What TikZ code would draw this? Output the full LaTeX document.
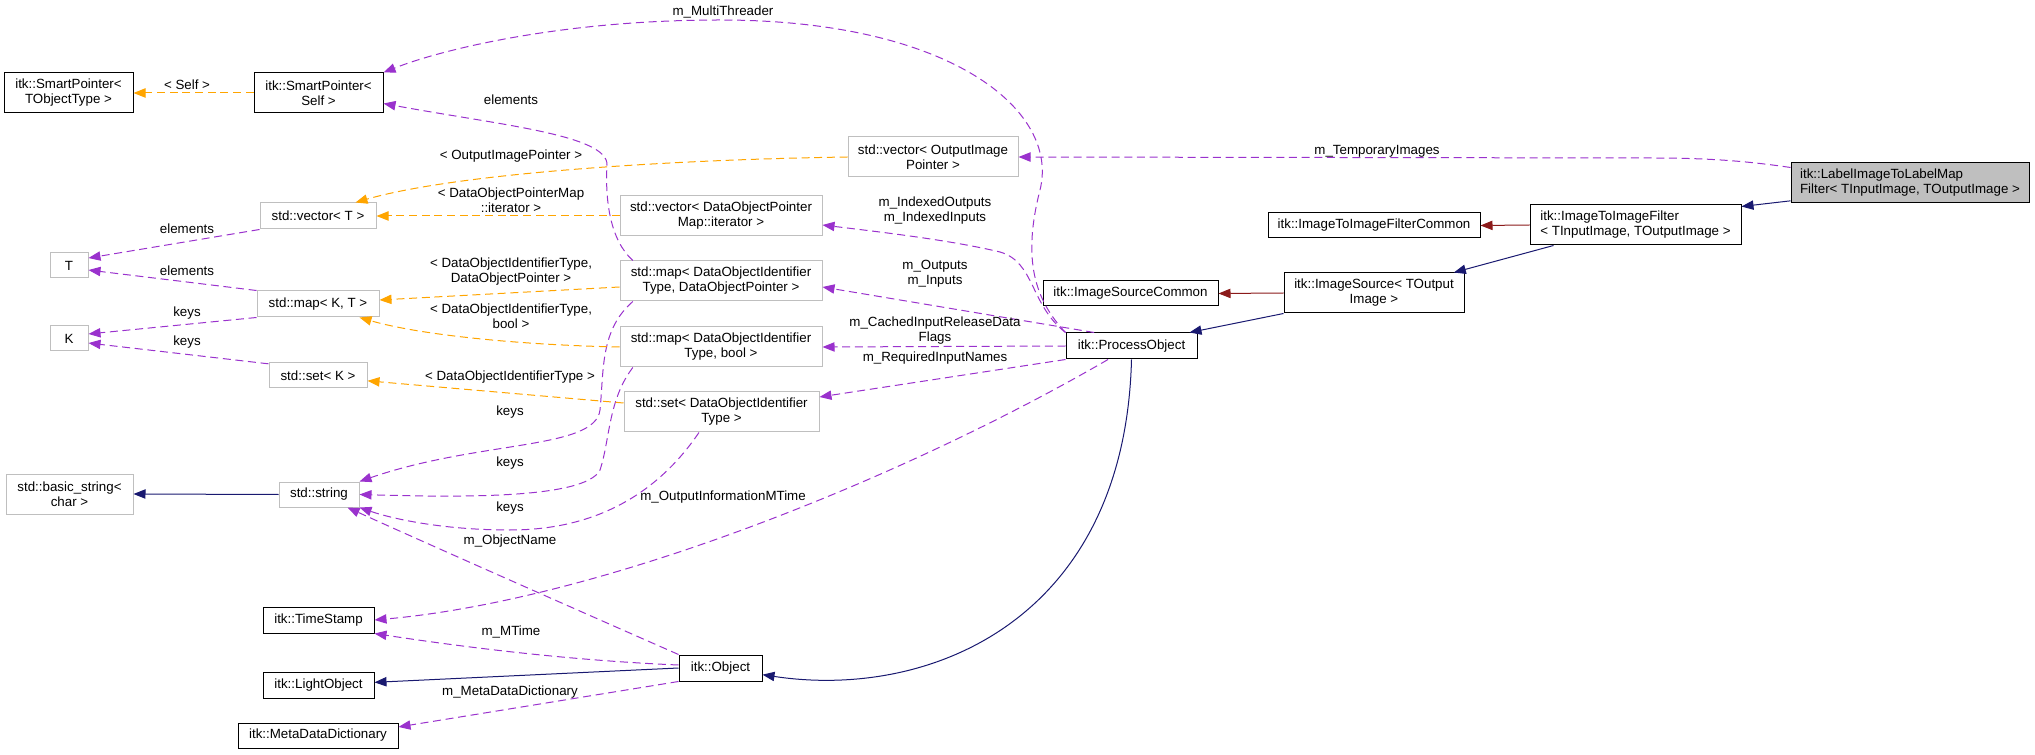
\documentclass[tikz,border=0pt]{standalone}
\usepackage{fontspec}
\setmainfont{Liberation Sans}
\usetikzlibrary{arrows.meta}
\definecolor{inhblue}{HTML}{191970}
\definecolor{protred}{HTML}{8B1A1A}
\definecolor{usepurple}{HTML}{9A32CD}
\definecolor{tmplorange}{HTML}{FFA500}
\definecolor{extgray}{HTML}{BFBFBF}
\begin{document}
\begin{tikzpicture}[x=0.75pt,y=-0.75pt,
    font=\fontsize{10}{11.25}\selectfont,
    box/.style 2 args={line width=0.75pt, inner sep=0pt, align=center,
      minimum width=#1*0.75pt, minimum height=#2*0.75pt},
    cls/.style 2 args={box={#1}{#2}, draw=black, fill=white},
    ext/.style 2 args={box={#1}{#2}, draw=extgray, fill=white},
    lbl/.style={inner sep=0pt, align=center},
    tip/.style={-{Triangle[length=9pt,width=7pt]}},
    inh/.style={draw=inhblue, line width=0.75pt, tip},
    prot/.style={draw=protred, line width=0.75pt, tip},
    usage/.style={draw=usepurple, line width=0.75pt, dash pattern=on 6pt off 3.5pt, tip},
    tmpl/.style={draw=tmplorange, line width=0.75pt, dash pattern=on 6pt off 3.5pt, tip}]
    \useasboundingbox (0,0) rectangle (2035,755);

    % classes
    \node[cls={129}{40}] (spTObj) at (68.5,93) {itk::SmartPointer<\\TObjectType >};
    \node[cls={129}{40}] (spSelf) at (318.5,93) {itk::SmartPointer<\\Self >};
    \node[ext={116}{26}] (vecT) at (318,216) {std::vector< T >};
    \node[ext={38}{25}] (T) at (69,265.5) {T};
    \node[ext={122}{26}] (mapKT) at (318,304) {std::map< K, T >};
    \node[ext={38}{25}] (K) at (69,338.5) {K};
    \node[ext={98}{25}] (setK) at (318,375.5) {std::set< K >};
    \node[ext={127}{40}] (bstr) at (69.5,494) {std::basic\_string<\\char >};
    \node[ext={80}{25}] (str) at (319,494.5) {std::string};
    \node[cls={111}{26}] (tstamp) at (318.5,620) {itk::TimeStamp};
    \node[cls={111}{26}] (light) at (318.5,685) {itk::LightObject};
    \node[cls={160}{25}] (meta) at (318,735.5) {itk::MetaDataDictionary};
    \node[ext={170}{40}] (vecOut) at (933,157) {std::vector< OutputImage\\Pointer >};
    \node[ext={202}{40}] (vecIter) at (721,216) {std::vector< DataObjectPointer\\Map::iterator >};
    \node[ext={202}{40}] (mapDOP) at (721,281) {std::map< DataObjectIdentifier\\Type, DataObjectPointer >};
    \node[ext={202}{40}] (mapBool) at (721,347) {std::map< DataObjectIdentifier\\Type, bool >};
    \node[ext={195}{40}] (setDOIT) at (721.5,412) {std::set< DataObjectIdentifier\\Type >};
    \node[cls={83}{26}] (obj) at (720.5,668) {itk::Object};
    \node[cls={131}{26}] (po) at (1131.5,346) {itk::ProcessObject};
    \node[cls={175}{25}] (isc) at (1130.5,293.5) {itk::ImageSourceCommon};
    \node[cls={180}{40}] (isrc) at (1374,293) {itk::ImageSource< TOutput\\Image >};
    \node[cls={212}{25}] (iifc) at (1374,225.5) {itk::ImageToImageFilterCommon};
    \node[cls={211}{40}, align=left] (iif) at (1635.5,225) {itk::ImageToImageFilter\\< TInputImage, TOutputImage >};
    \node[cls={238}{40}, fill=extgray, align=left] (main) at (1910,183) {itk::LabelImageToLabelMap\\Filter< TInputImage, TOutputImage >};

    % inheritance
    \draw[inh] ([yshift=2pt]main.south west) -- ([yshift=-1.5pt]iif.north east);
    \draw[inh] ([xshift=18pt]iif.south west) -- ([xshift=-8pt]isrc.north east);
    \draw[inh] (isrc.south west) -- ([xshift=-6pt]po.north east);
    \draw[inh] (po.south) .. controls (1125,620) and (930,700) .. ([yshift=-5pt]obj.east);
    \draw[inh] (obj.west) -- ([yshift=2pt]light.east);
    \draw[inh] (str.west) -- (bstr.east);
    \draw[prot] (iif.west) -- (iifc.east);
    \draw[prot] (isrc.west) -- (isc.east);

    % members
    \draw[usage] ([yshift=-3.75pt]main.north west) .. controls (1740,160) and (1700,158) .. (1650,158) -- (vecOut.east);
    \node[lbl] (lTemp) at (1377,151) {m\_TemporaryImages};
    \draw[usage] (po.north west) .. controls (1035,300) and (1022,260) .. (1040,190)
        .. controls (1060,110) and (950,20) .. (720,20)
        .. controls (560,20) and (440,50) .. (spSelf.north east);
    \node[lbl] (lThread) at (723,12) {m\_MultiThreader};
    \draw[usage] (po.north west) .. controls (1030,305) and (1035,262) .. (1000,252)
        .. controls (950,240) and (880,232) .. ([yshift=-6.75pt]vecIter.east);
    \node[lbl] (lIndexed) at (935,210.5) {m\_IndexedOutputs\\m\_IndexedInputs};
    \draw[usage] ([xshift=-28pt]po.north) -- ([yshift=-4.5pt]mapDOP.east);
    \node[lbl] (lInOut) at (935,274) {m\_Outputs\\m\_Inputs};
    \draw[usage] (po.west) -- (mapBool.east);
    \node[lbl] (lCached) at (935,330.5) {m\_CachedInputReleaseData\\Flags};
    \draw[usage] (po.south west) -- ([yshift=11.25pt]setDOIT.east);
    \node[lbl] (lRequired) at (935,358) {m\_RequiredInputNames};
    \draw[usage] ([xshift=-17.6pt]po.south) .. controls (900,480) and (600,600) .. (tstamp.east);
    \node[lbl] (lOutInfo) at (723,497) {m\_OutputInformationMTime};
    \draw[usage] (obj.north west) .. controls (600,620) and (430,545) .. ([xshift=-9pt]str.south east);
    \node[lbl] (lName) at (510,541) {m\_ObjectName};
    \draw[usage] ([yshift=2.25pt]obj.west) .. controls (560,660) and (450,645) .. (tstamp.south east);
    \node[lbl] (lMTime) at (511,632) {m\_MTime};
    \draw[usage] (obj.south west) -- ([yshift=6.4pt]meta.east);
    \node[lbl] (lMeta) at (510,692) {m\_MetaDataDictionary};
    \draw[usage] ([xshift=10pt]mapDOP.north west) .. controls (610,240) and (605,200) .. (607,165)
        .. controls (608,135) and (500,125) .. ([yshift=7.5pt]spSelf.south east);
    \node[lbl] (lElemSp) at (511,100) {elements};
    \draw[usage] ([xshift=10pt]mapDOP.south west) .. controls (600,330) and (604,370) .. (600,410)
        .. controls (595,450) and (480,440) .. (str.north east);
    \node[lbl] (lKeys1) at (510,412) {keys};
    \draw[usage] ([xshift=10pt]mapBool.south west) .. controls (608,400) and (610,440) .. (600,470)
        .. controls (585,500) and (450,497) .. (str.east);
    \node[lbl] (lKeys2) at (510,463) {keys};
    \draw[usage] ([xshift=-16.9pt]setDOIT.south) .. controls (660,490) and (600,530) .. (510,530)
        .. controls (440,530) and (390,518) .. (str.south east);
    \node[lbl] (lKeys3) at (510,508) {keys};
    \draw[usage] (vecT.south west) -- ([yshift=5.6pt]T.east);
    \node[lbl] (lElemV) at (187,229) {elements};
    \draw[usage] (mapKT.north west) -- ([yshift=-3.4pt]T.east);
    \node[lbl] (lElemM) at (187,271) {elements};
    \draw[usage] (mapKT.south west) -- ([yshift=3.4pt]K.east);
    \node[lbl] (lKeysM) at (187,313) {keys};
    \draw[usage] ([yshift=-1pt]setK.north west) -- ([yshift=-3.4pt]K.east);
    \node[lbl] (lKeysS) at (187,342) {keys};

    % template instances
    \draw[tmpl] (vecOut.west) .. controls (650,160) and (450,175) .. ([xshift=-15.75pt]vecT.north east);
    \node[lbl] (lOutPtr) at (511,156) {< OutputImagePointer >};
    \draw[tmpl] (vecIter.west) -- (vecT.east);
    \node[lbl] (lIter) at (511,200.5) {< DataObjectPointerMap\\::iterator >};
    \draw[tmpl] ([yshift=-4.5pt]mapDOP.west) -- ([yshift=3pt]mapKT.east);
    \node[lbl] (lDOP) at (511,272) {< DataObjectIdentifierType,\\DataObjectPointer >};
    \draw[tmpl] (mapBool.west) .. controls (520,345) and (420,335) .. ([xshift=-15pt]mapKT.south east);
    \node[lbl] (lBool) at (511,316) {< DataObjectIdentifierType,\\bool >};
    \draw[tmpl] ([yshift=6.75pt]setDOIT.west) -- ([yshift=-4pt]setK.east);
    \node[lbl] (lSet) at (510,377) {< DataObjectIdentifierType >};
    \draw[tmpl] (spSelf.west) -- (spTObj.east);
    \node[lbl] (lSelf) at (187,85) {< Self >};
\end{tikzpicture}
\end{document}
